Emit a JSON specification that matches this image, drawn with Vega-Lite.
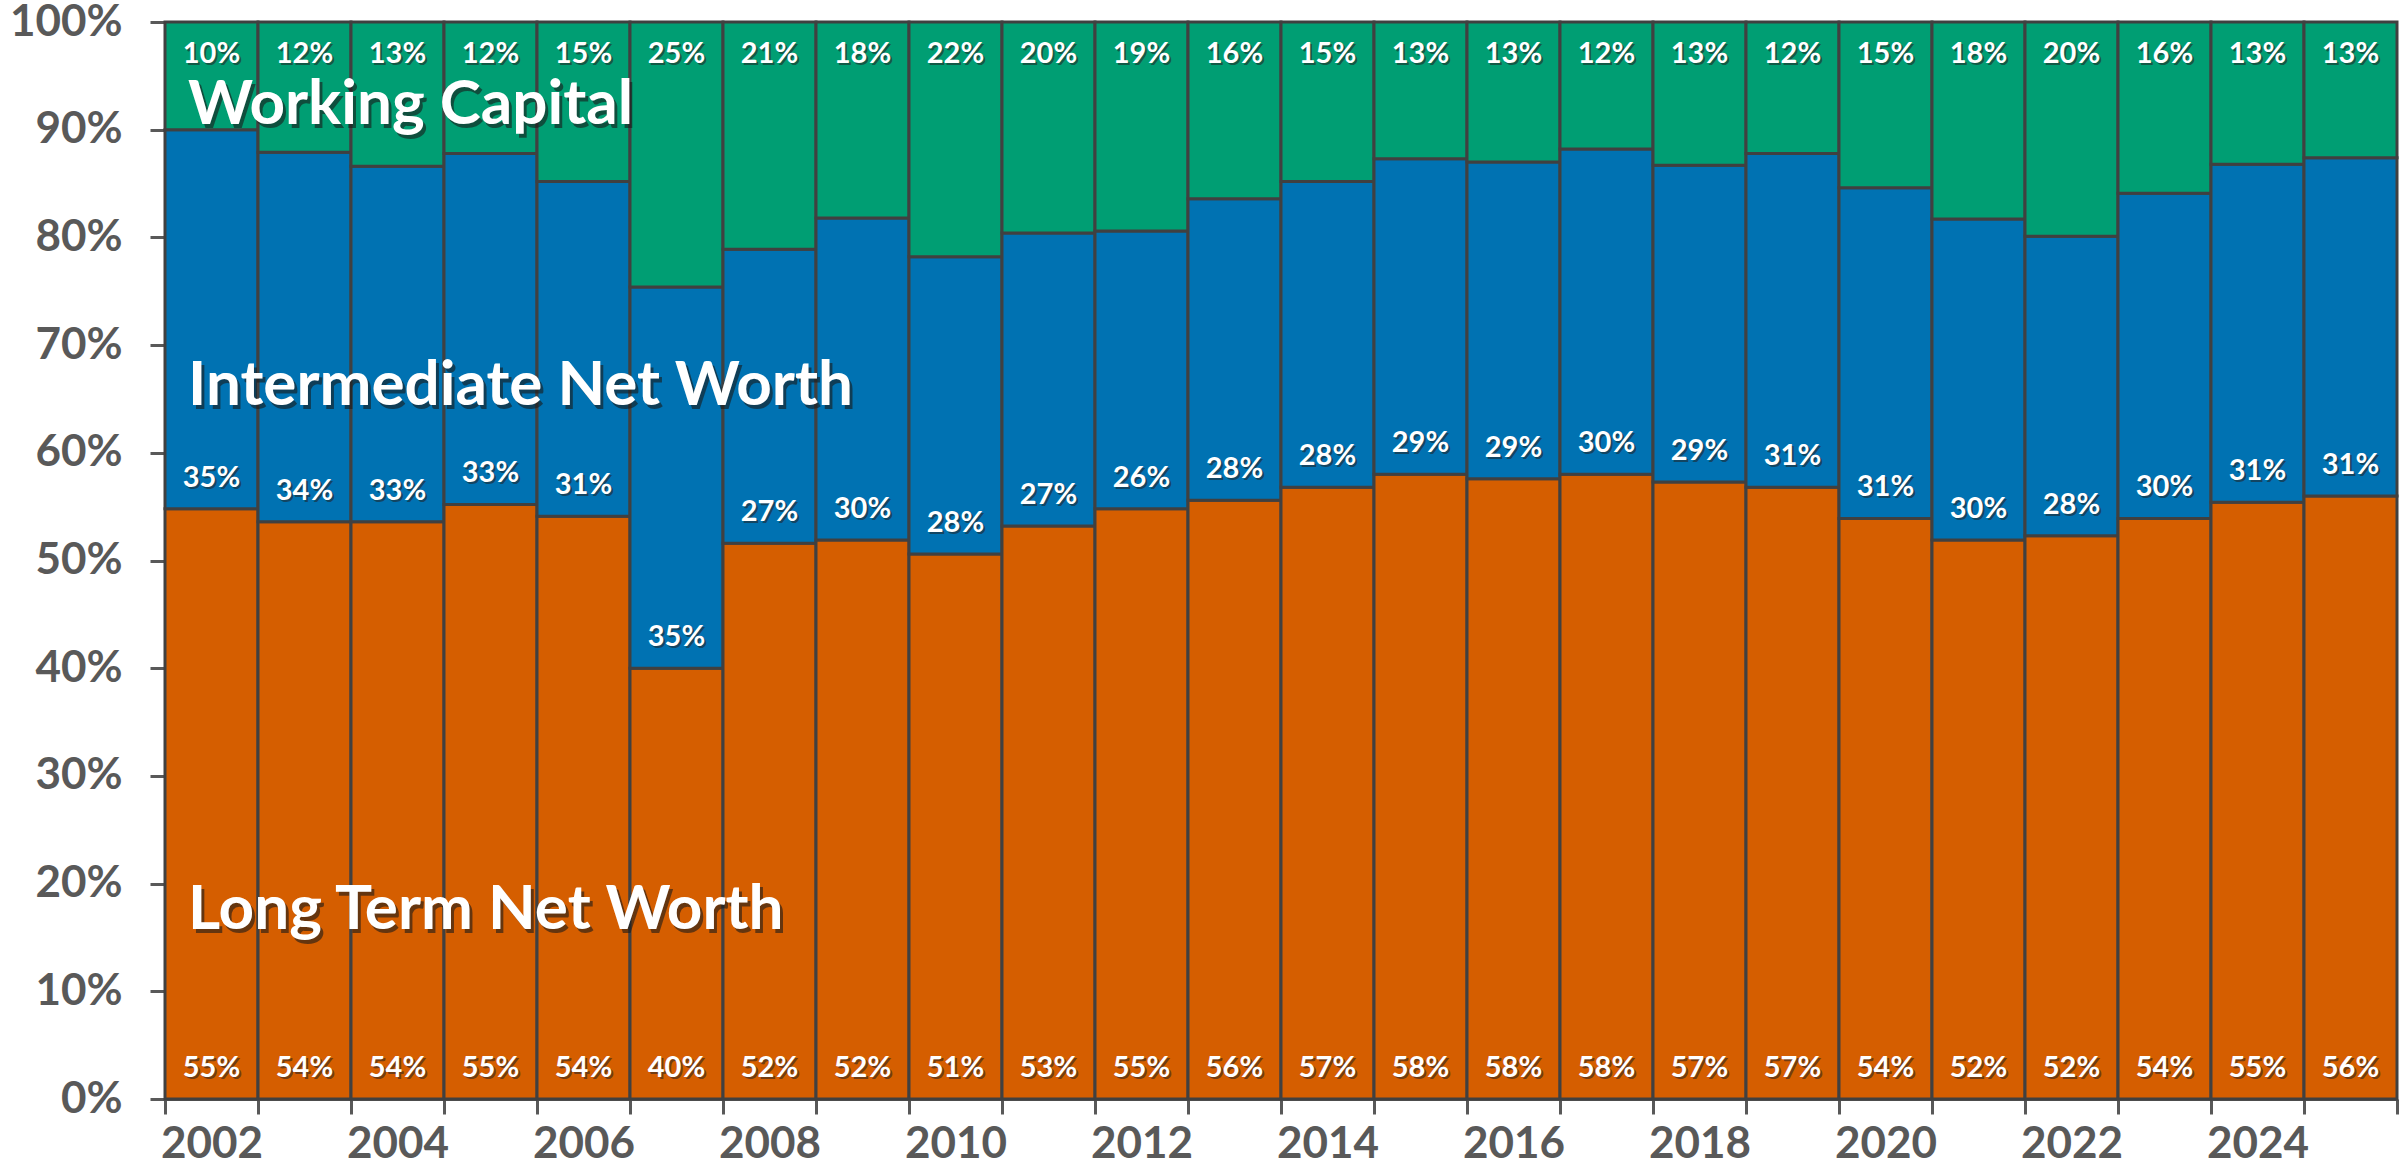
{
  "$schema": "https://vega.github.io/schema/vega-lite/v6.json",
  "width": 2232,
  "height": 1077,
  "autosize": {"type": "none"},
  "padding": {"left": 165, "top": 22, "right": 2, "bottom": 68},
  "background": "white",
  "config": {
    "view": {"stroke": null},
    "font": "Lato",
    "axis": {
      "labelFont": "Lato",
      "labelFontWeight": "bold",
      "labelFontSize": 44,
      "labelColor": "#595959",
      "labelOverlap": false,
      "labelBound": false,
      "domainColor": "#595959",
      "domainWidth": 3,
      "tickColor": "#595959",
      "tickWidth": 3,
      "tickSize": 15,
      "grid": false,
      "title": null
    }
  },
  "data": {
    "values": [
      {"year": "2002", "long_term": 0.548, "mid_term": 0.352, "working_capital": 0.100},
      {"year": "2003", "long_term": 0.536, "mid_term": 0.343, "working_capital": 0.121},
      {"year": "2004", "long_term": 0.536, "mid_term": 0.330, "working_capital": 0.134},
      {"year": "2005", "long_term": 0.552, "mid_term": 0.326, "working_capital": 0.122},
      {"year": "2006", "long_term": 0.541, "mid_term": 0.311, "working_capital": 0.148},
      {"year": "2007", "long_term": 0.400, "mid_term": 0.354, "working_capital": 0.246},
      {"year": "2008", "long_term": 0.516, "mid_term": 0.273, "working_capital": 0.211},
      {"year": "2009", "long_term": 0.519, "mid_term": 0.299, "working_capital": 0.182},
      {"year": "2010", "long_term": 0.506, "mid_term": 0.276, "working_capital": 0.218},
      {"year": "2011", "long_term": 0.532, "mid_term": 0.272, "working_capital": 0.196},
      {"year": "2012", "long_term": 0.548, "mid_term": 0.258, "working_capital": 0.194},
      {"year": "2013", "long_term": 0.556, "mid_term": 0.280, "working_capital": 0.164},
      {"year": "2014", "long_term": 0.568, "mid_term": 0.284, "working_capital": 0.148},
      {"year": "2015", "long_term": 0.580, "mid_term": 0.293, "working_capital": 0.127},
      {"year": "2016", "long_term": 0.576, "mid_term": 0.294, "working_capital": 0.130},
      {"year": "2017", "long_term": 0.580, "mid_term": 0.302, "working_capital": 0.118},
      {"year": "2018", "long_term": 0.573, "mid_term": 0.294, "working_capital": 0.133},
      {"year": "2019", "long_term": 0.568, "mid_term": 0.310, "working_capital": 0.122},
      {"year": "2020", "long_term": 0.539, "mid_term": 0.307, "working_capital": 0.154},
      {"year": "2021", "long_term": 0.519, "mid_term": 0.298, "working_capital": 0.183},
      {"year": "2022", "long_term": 0.523, "mid_term": 0.278, "working_capital": 0.199},
      {"year": "2023", "long_term": 0.539, "mid_term": 0.302, "working_capital": 0.159},
      {"year": "2024", "long_term": 0.554, "mid_term": 0.314, "working_capital": 0.132},
      {"year": "2025", "long_term": 0.560, "mid_term": 0.314, "working_capital": 0.126}
    ]
  },
  "encoding": {
    "x": {
      "field": "year",
      "type": "ordinal",
      "scale": {"paddingInner": 0, "paddingOuter": 0},
      "axis": {
        "labelAngle": 0,
        "tickBand": "extent",
        "labelPadding": 8,
        "labelExpr": "toNumber(datum.value) % 2 == 0 ? datum.label : ''"
      }
    }
  },
  "layer": [
    {
      "transform": [{"fold": ["long_term", "mid_term", "working_capital"], "as": ["series", "share"]}],
      "mark": {"type": "bar", "stroke": "#404040", "strokeWidth": 3},
      "encoding": {
        "y": {
          "field": "share",
          "type": "quantitative",
          "stack": "zero",
          "scale": {"domain": [0, 1], "nice": false, "zero": true},
          "axis": {"format": ".0%", "values": [0, 0.1, 0.2, 0.3, 0.4, 0.5, 0.6, 0.7, 0.8, 0.9, 1.0], "labelPadding": 28}
        },
        "color": {
          "field": "series",
          "type": "nominal",
          "scale": {"domain": ["long_term", "mid_term", "working_capital"], "range": ["#D55E00", "#0072B2", "#009E73"]},
          "legend": null
        },
        "order": {"field": "series", "sort": "ascending"}
      }
    },
    {
      "mark": {"type": "text", "color": "#222222", "opacity": 0.55, "font": "Lato", "fontWeight": "bold", "fontSize": 29, "baseline": "middle", "dx": 2, "dy": 34},
      "encoding": {"y": {"datum": 1}, "text": {"field": "working_capital", "format": ".0%"}}
    },
    {
      "mark": {"type": "text", "color": "white", "font": "Lato", "fontWeight": "bold", "fontSize": 29, "baseline": "middle", "dy": 32},
      "encoding": {"y": {"datum": 1}, "text": {"field": "working_capital", "format": ".0%"}}
    },
    {
      "mark": {"type": "text", "color": "#222222", "opacity": 0.55, "font": "Lato", "fontWeight": "bold", "fontSize": 29, "baseline": "middle", "dx": 2, "dy": -29},
      "encoding": {"y": {"field": "long_term", "type": "quantitative"}, "text": {"field": "mid_term", "format": ".0%"}}
    },
    {
      "mark": {"type": "text", "color": "white", "font": "Lato", "fontWeight": "bold", "fontSize": 29, "baseline": "middle", "dy": -31},
      "encoding": {"y": {"field": "long_term", "type": "quantitative"}, "text": {"field": "mid_term", "format": ".0%"}}
    },
    {
      "mark": {"type": "text", "color": "#222222", "opacity": 0.55, "font": "Lato", "fontWeight": "bold", "fontSize": 29, "baseline": "middle", "dx": 2, "dy": -29},
      "encoding": {"y": {"datum": 0}, "text": {"field": "long_term", "format": ".0%"}}
    },
    {
      "mark": {"type": "text", "color": "white", "font": "Lato", "fontWeight": "bold", "fontSize": 29, "baseline": "middle", "dy": -31},
      "encoding": {"y": {"datum": 0}, "text": {"field": "long_term", "format": ".0%"}}
    },
    {
      "data": {"values": [
        {"label": "Working Capital", "pos": "wc"},
        {"label": "Intermediate Net Worth", "pos": "in"},
        {"label": "Long Term Net Worth", "pos": "lt"}
      ]},
      "layer": [
        {
          "transform": [{"filter": "datum.pos == 'wc'"}],
          "mark": {"type": "text", "color": "#1a1a1a", "opacity": 0.6, "font": "Lato", "fontWeight": "bold", "fontSize": 62, "align": "left", "baseline": "alphabetic", "dx": 26, "dy": 4},
          "encoding": {"x": {"datum": "2002", "bandPosition": 0}, "y": {"datum": 0.905}, "text": {"field": "label"}}
        },
        {
          "transform": [{"filter": "datum.pos == 'wc'"}],
          "mark": {"type": "text", "color": "white", "font": "Lato", "fontWeight": "bold", "fontSize": 62, "align": "left", "baseline": "alphabetic", "dx": 23},
          "encoding": {"x": {"datum": "2002", "bandPosition": 0}, "y": {"datum": 0.905}, "text": {"field": "label"}}
        },
        {
          "transform": [{"filter": "datum.pos == 'in'"}],
          "mark": {"type": "text", "color": "#1a1a1a", "opacity": 0.6, "font": "Lato", "fontWeight": "bold", "fontSize": 62, "align": "left", "baseline": "alphabetic", "dx": 26, "dy": 4},
          "encoding": {"x": {"datum": "2002", "bandPosition": 0}, "y": {"datum": 0.644}, "text": {"field": "label"}}
        },
        {
          "transform": [{"filter": "datum.pos == 'in'"}],
          "mark": {"type": "text", "color": "white", "font": "Lato", "fontWeight": "bold", "fontSize": 62, "align": "left", "baseline": "alphabetic", "dx": 23},
          "encoding": {"x": {"datum": "2002", "bandPosition": 0}, "y": {"datum": 0.644}, "text": {"field": "label"}}
        },
        {
          "transform": [{"filter": "datum.pos == 'lt'"}],
          "mark": {"type": "text", "color": "#1a1a1a", "opacity": 0.6, "font": "Lato", "fontWeight": "bold", "fontSize": 62, "align": "left", "baseline": "alphabetic", "dx": 26, "dy": 4},
          "encoding": {"x": {"datum": "2002", "bandPosition": 0}, "y": {"datum": 0.158}, "text": {"field": "label"}}
        },
        {
          "transform": [{"filter": "datum.pos == 'lt'"}],
          "mark": {"type": "text", "color": "white", "font": "Lato", "fontWeight": "bold", "fontSize": 62, "align": "left", "baseline": "alphabetic", "dx": 23},
          "encoding": {"x": {"datum": "2002", "bandPosition": 0}, "y": {"datum": 0.158}, "text": {"field": "label"}}
        }
      ]
    }
  ]
}
